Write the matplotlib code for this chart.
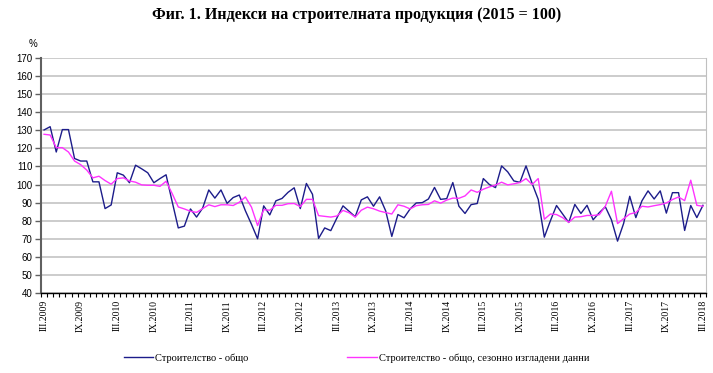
import matplotlib
matplotlib.use("Agg")
import matplotlib.pyplot as plt
from matplotlib.ticker import FixedLocator, NullFormatter

# ---- data (monthly, III.2009 .. III.2018) ----
total = [130.2, 132.0, 118.0, 130.4, 130.4, 114.4, 113.0, 113.0, 101.5, 101.5,
         86.7, 88.7, 106.5, 105.2, 101.0, 110.7, 108.7, 106.5, 101.0, 103.3,
         105.4, 90.5, 76.0, 77.0, 86.5, 82.0, 87.0, 97.0, 92.5, 97.0,
         89.6, 92.8, 94.2, 85.5, 78.0, 70.0, 88.2, 83.2, 91.0, 92.3,
         95.7, 98.2, 86.7, 100.6, 94.6, 70.2, 76.0, 74.5, 81.5, 88.2,
         85.2, 82.2, 91.5, 93.2, 88.0, 93.2, 85.4, 71.3, 83.4, 81.6,
         86.5, 89.8, 90.0, 92.0, 98.4, 91.8, 92.2, 101.1, 88.0, 84.0,
         88.9, 89.5, 103.3, 100.0, 98.3, 110.3, 107.0, 102.0, 101.2, 110.3,
         100.6, 91.8, 70.9, 80.0, 88.4, 83.7, 79.0, 89.0, 84.0, 88.5,
         80.5, 84.4, 87.7, 80.5, 68.7, 78.5, 93.5, 81.7, 91.0, 96.5,
         92.0, 96.5, 84.2, 95.5, 95.5, 74.6, 88.4, 81.7, 88.5]

smoothed = [127.8, 127.4, 120.4, 120.4, 118.0, 113.0, 111.0, 108.0, 103.7, 104.6,
            102.2, 100.2, 103.3, 103.7, 102.0, 101.3, 99.8, 99.6, 99.6, 99.0,
            101.8, 95.0, 87.6, 86.5, 85.2, 84.6, 86.7, 88.8, 87.8, 88.8,
            88.8, 88.4, 90.2, 93.1, 87.5, 77.3, 86.1, 85.8, 88.5, 88.5,
            89.4, 89.5, 87.8, 91.8, 91.8, 82.8, 82.4, 82.0, 82.6, 85.7,
            84.4, 82.0, 85.8, 87.5, 86.6, 85.3, 84.5, 83.7, 88.8, 88.0,
            86.5, 88.3, 88.8, 89.0, 91.0, 89.7, 91.4, 92.5, 92.4, 93.7,
            97.0, 95.7, 97.4, 98.7, 99.7, 101.3, 99.8, 100.4, 101.1, 103.3,
            100.0, 103.3, 80.8, 83.7, 83.4, 81.7, 79.1, 82.0, 82.2, 82.9,
            82.9, 83.3, 88.0, 96.3, 78.4, 81.1, 83.7, 84.5, 88.0, 87.6,
            88.3, 88.9, 89.8, 91.7, 93.1, 91.1, 102.4, 88.5, 88.0]

tick_labels = ["III.2009", "IX.2009", "III.2010", "IX.2010", "III.2011", "IX.2011",
               "III.2012", "IX.2012", "III.2013", "IX.2013", "III.2014", "IX.2014",
               "III.2015", "IX.2015", "III.2016", "IX.2016", "III.2017", "IX.2017",
               "III.2018"]

series_names = ["Строителство - общо", "Строителство - общо, сезонно изгладени данни"]
title = "Фиг. 1. Индекси на строителната продукция (2015 = 100)"

# ---- figure ----
fig = plt.figure(figsize=(7.13, 3.73), dpi=100)
ax = fig.add_axes([41/713, 1-293/373, 665/713, 235/373])

x = list(range(len(total)))
l1, = ax.plot(x, total, color="#1c1c8a", lw=1.0)
l2, = ax.plot(x, smoothed, color="#ff33ff", lw=1.0)

ax.set_xlim(-0.5, len(total) - 0.5)
ax.set_ylim(40, 170)
ax.set_yticks(range(40, 171, 10))
ax.yaxis.grid(True, color="#c4c4c4", lw=1.2)
ax.set_axisbelow(True)

for lab in ax.get_yticklabels():
    lab.set_fontfamily("Liberation Sans")
    lab.set_fontsize(7)
ax.tick_params(axis="y", length=4, width=1, color="#606060", pad=2)

# x: minor ticks at category boundaries, labels every 6 months
ax.xaxis.set_minor_locator(FixedLocator([i - 0.5 for i in range(len(total) + 1)]))
ax.xaxis.set_minor_formatter(NullFormatter())
ax.set_xticks(list(range(0, len(total), 6)))
ax.set_xticklabels(tick_labels, rotation=90, family="Liberation Serif", fontsize=7)
ax.tick_params(axis="x", which="major", length=0, pad=5)
ax.tick_params(axis="x", which="minor", length=3, width=0.8, color="black")

ax.spines["left"].set_color("#606060")
ax.spines["left"].set_linewidth(1.5)
ax.spines["bottom"].set_color("black")
ax.spines["bottom"].set_linewidth(1.0)
ax.spines["right"].set_color("#c0c0c0")
ax.spines["top"].set_visible(False)

ax.text(-0.005, 1.06, "%", transform=ax.transAxes, ha="right", va="center",
        fontsize=7, family="Liberation Sans")

fig.text(0.5, 1 - 15/373, title, ha="center", va="center", fontsize=11.5,
         fontweight="bold", family="Liberation Serif")

fig.legend([l1, l2], series_names, ncol=2, loc="center",
           bbox_to_anchor=(0.5, 1 - 358/373), frameon=False,
           prop={"family": "Liberation Serif", "size": 7.5},
           handlelength=2.8, handletextpad=0.2, columnspacing=9.5)

fig.savefig("out.png", dpi=100)
